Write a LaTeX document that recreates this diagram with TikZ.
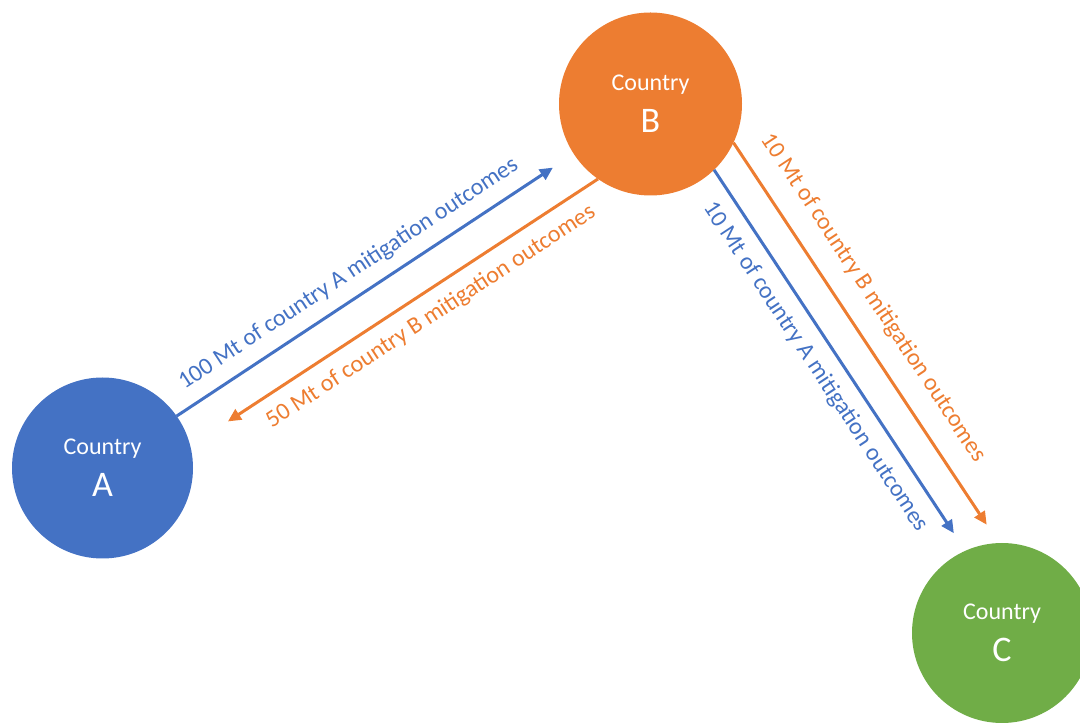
\documentclass[tikz,border=0pt]{standalone}
\usepackage{fontspec}
\setmainfont{Carlito}
\usepackage{xcolor}
\usepackage{tikz}
\usetikzlibrary{arrows.meta, positioning}

\definecolor{blueA}{HTML}{4472C4}
\definecolor{orangeB}{HTML}{ED7D31}
\definecolor{greenC}{HTML}{70AD47}

\begin{document}
\begin{tikzpicture}[
    x=1pt, y=1pt,
    country/.style={circle, minimum size=181pt, inner sep=0pt, outer sep=0pt, text=white, align=center, font=\fontsize{24}{42}\selectfont},
    blueline/.style={-{Triangle[length=13pt,width=12pt]}, line width=3pt, draw=blueA},
    orangeline/.style={-{Triangle[length=13pt,width=12pt]}, line width=3pt, draw=orangeB},
    flowlabel/.style={sloped, inner sep=2pt, font=\fontsize{24}{28}\selectfont}
]
    \useasboundingbox (0,0) rectangle (1080,723);

    % Layout
    \node[country, fill=blueA] (A) at (102.5,255) {Country\\{\fontsize{36}{42}\selectfont A}};
    \node[country, fill=orangeB, minimum size=183pt] (B) at (650.5,619) {Country\\{\fontsize{36}{42}\selectfont B}};
    \node[country, fill=greenC, minimum size=180pt] (C) at (1002,90) {Country\\{\fontsize{36}{42}\selectfont C}};

    % Arrows
    \draw[blueline, shorten >=25pt] (A.35) -- (B.213) node[flowlabel, pos=0.466, above=10pt, text=blueA] {100 Mt of country A mitigation outcomes};
    \draw[orangeline, shorten >=45pt] (B.235) -- (A.14) node[flowlabel, pos=0.442, below=10pt, text=orangeB] {50 Mt of country B mitigation outcomes};
    \draw[blueline, shorten >=21pt] (B.314) -- (C.114) node[flowlabel, pos=0.483, below=10pt, text=blueA] {10 Mt of country A mitigation outcomes};
    \draw[orangeline, shorten >=22pt] (B.335) -- (C.92) node[flowlabel, pos=0.43, above=17pt, text=orangeB] {10 Mt of country B mitigation outcomes};
\end{tikzpicture}
\end{document}
